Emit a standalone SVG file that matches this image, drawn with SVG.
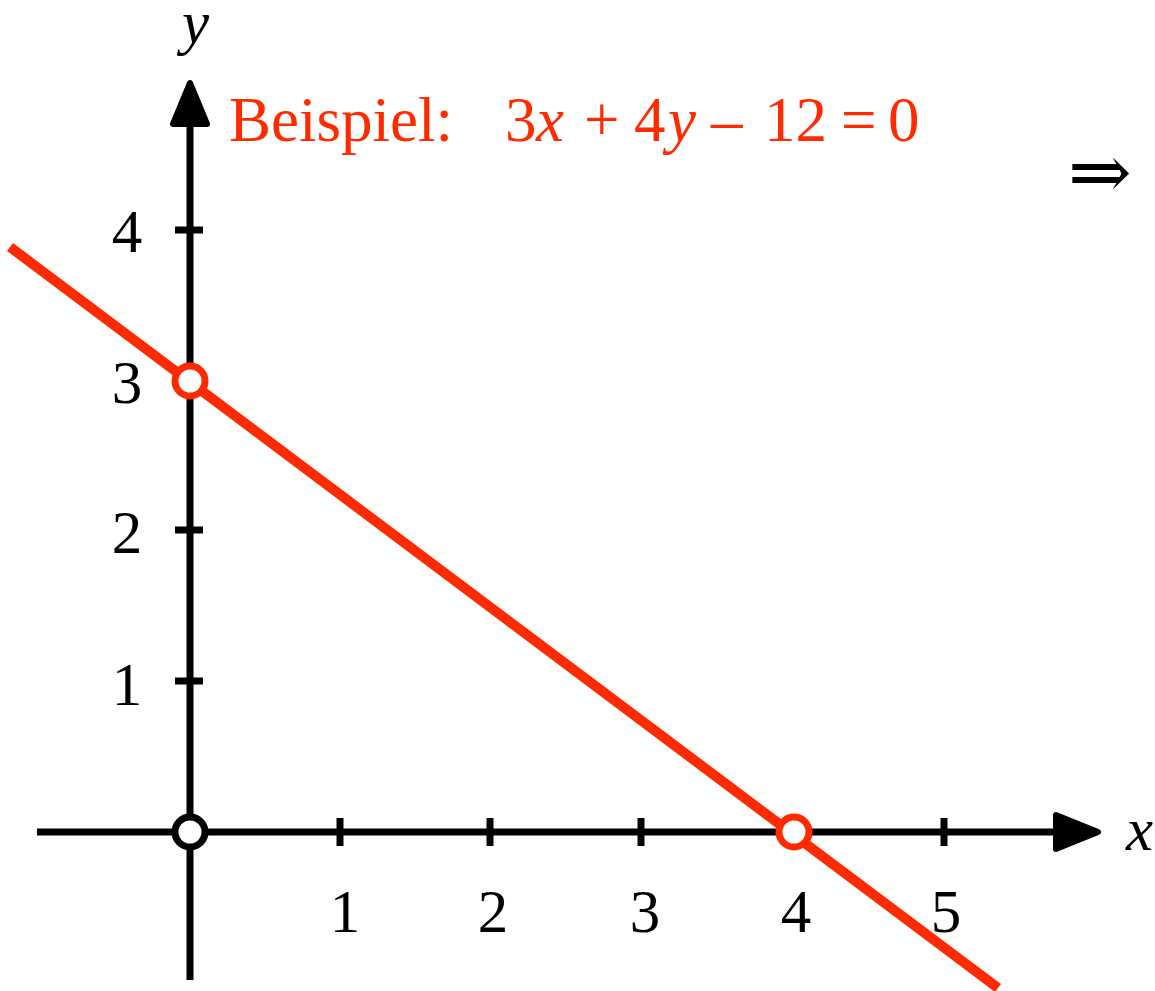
<svg xmlns="http://www.w3.org/2000/svg" width="1155" height="991" viewBox="0 0 1155 991">
<style>
.ax{stroke:#000;stroke-width:7;fill:none}
.tk{stroke:#000;stroke-width:7}
.head{fill:#000;stroke:#000;stroke-width:6;stroke-linejoin:round}
.lbl{font-family:"Liberation Serif","Times New Roman",serif;font-size:61px;fill:#000}
.red{fill:#ff2a00}
.it{font-style:italic}
.pt{fill:#fff;stroke-width:7}
</style>
<rect width="1155" height="991" fill="#fff"/>
<g id="axes">
<line class="ax" x1="37" y1="832" x2="1060" y2="832"/>
<polygon class="head" points="1098,832 1056,815 1056,849"/>
<line class="ax" x1="190" y1="980" x2="190" y2="120"/>
<polygon class="head" points="190,83 173,124 207,124"/>
</g>
<g id="ticks">
<line class="tk" x1="175" y1="230" x2="203" y2="230"/>
<line class="tk" x1="175" y1="381" x2="203" y2="381"/>
<line class="tk" x1="175" y1="530" x2="203" y2="530"/>
<line class="tk" x1="175" y1="681" x2="203" y2="681"/>
<line class="tk" x1="340" y1="818" x2="340" y2="846"/>
<line class="tk" x1="490" y1="818" x2="490" y2="846"/>
<line class="tk" x1="641" y1="818" x2="641" y2="846"/>
<line class="tk" x1="794" y1="818" x2="794" y2="846"/>
<line class="tk" x1="944" y1="818" x2="944" y2="846"/>
</g>
<g id="tick-labels" class="lbl" text-anchor="middle">
<text x="127" y="252">4</text>
<text x="127" y="403">3</text>
<text x="127" y="553">2</text>
<text x="127" y="705">1</text>
<text x="345" y="932">1</text>
<text x="493" y="932">2</text>
<text x="645" y="932">3</text>
<text x="796" y="932">4</text>
<text x="946" y="932">5</text>
</g>
<g id="axis-labels" class="lbl it">
<text x="1126" y="850">x</text>
<text x="182" y="43">y</text>
</g>
<g id="line">
<line x1="10" y1="247" x2="998" y2="988" stroke="#ff2a00" stroke-width="10"/>
</g>
<g id="origin"><circle class="pt" cx="190" cy="832" r="15" stroke="#000"/></g>
<g id="y-intercept"><circle class="pt" cx="190" cy="381" r="15" stroke="#ff2a00"/></g>
<g id="x-intercept"><circle class="pt" cx="794" cy="832" r="15" stroke="#ff2a00"/></g>
<g id="title">
<text class="lbl red" y="141" style="font-size:63px"><tspan x="229">Beispiel:</tspan><tspan x="505">3</tspan><tspan x="536" class="it">x</tspan><tspan x="584">+</tspan><tspan x="634">4</tspan><tspan x="668" class="it">y</tspan><tspan x="711">–</tspan><tspan x="764">12</tspan><tspan x="841">=</tspan><tspan x="888">0</tspan></text>
</g>
<g id="implies">
<text class="lbl" x="1068" y="198" style="font-family:'DejaVu Serif','Liberation Serif',serif;font-size:76px">⇒</text>
</g>
</svg>
